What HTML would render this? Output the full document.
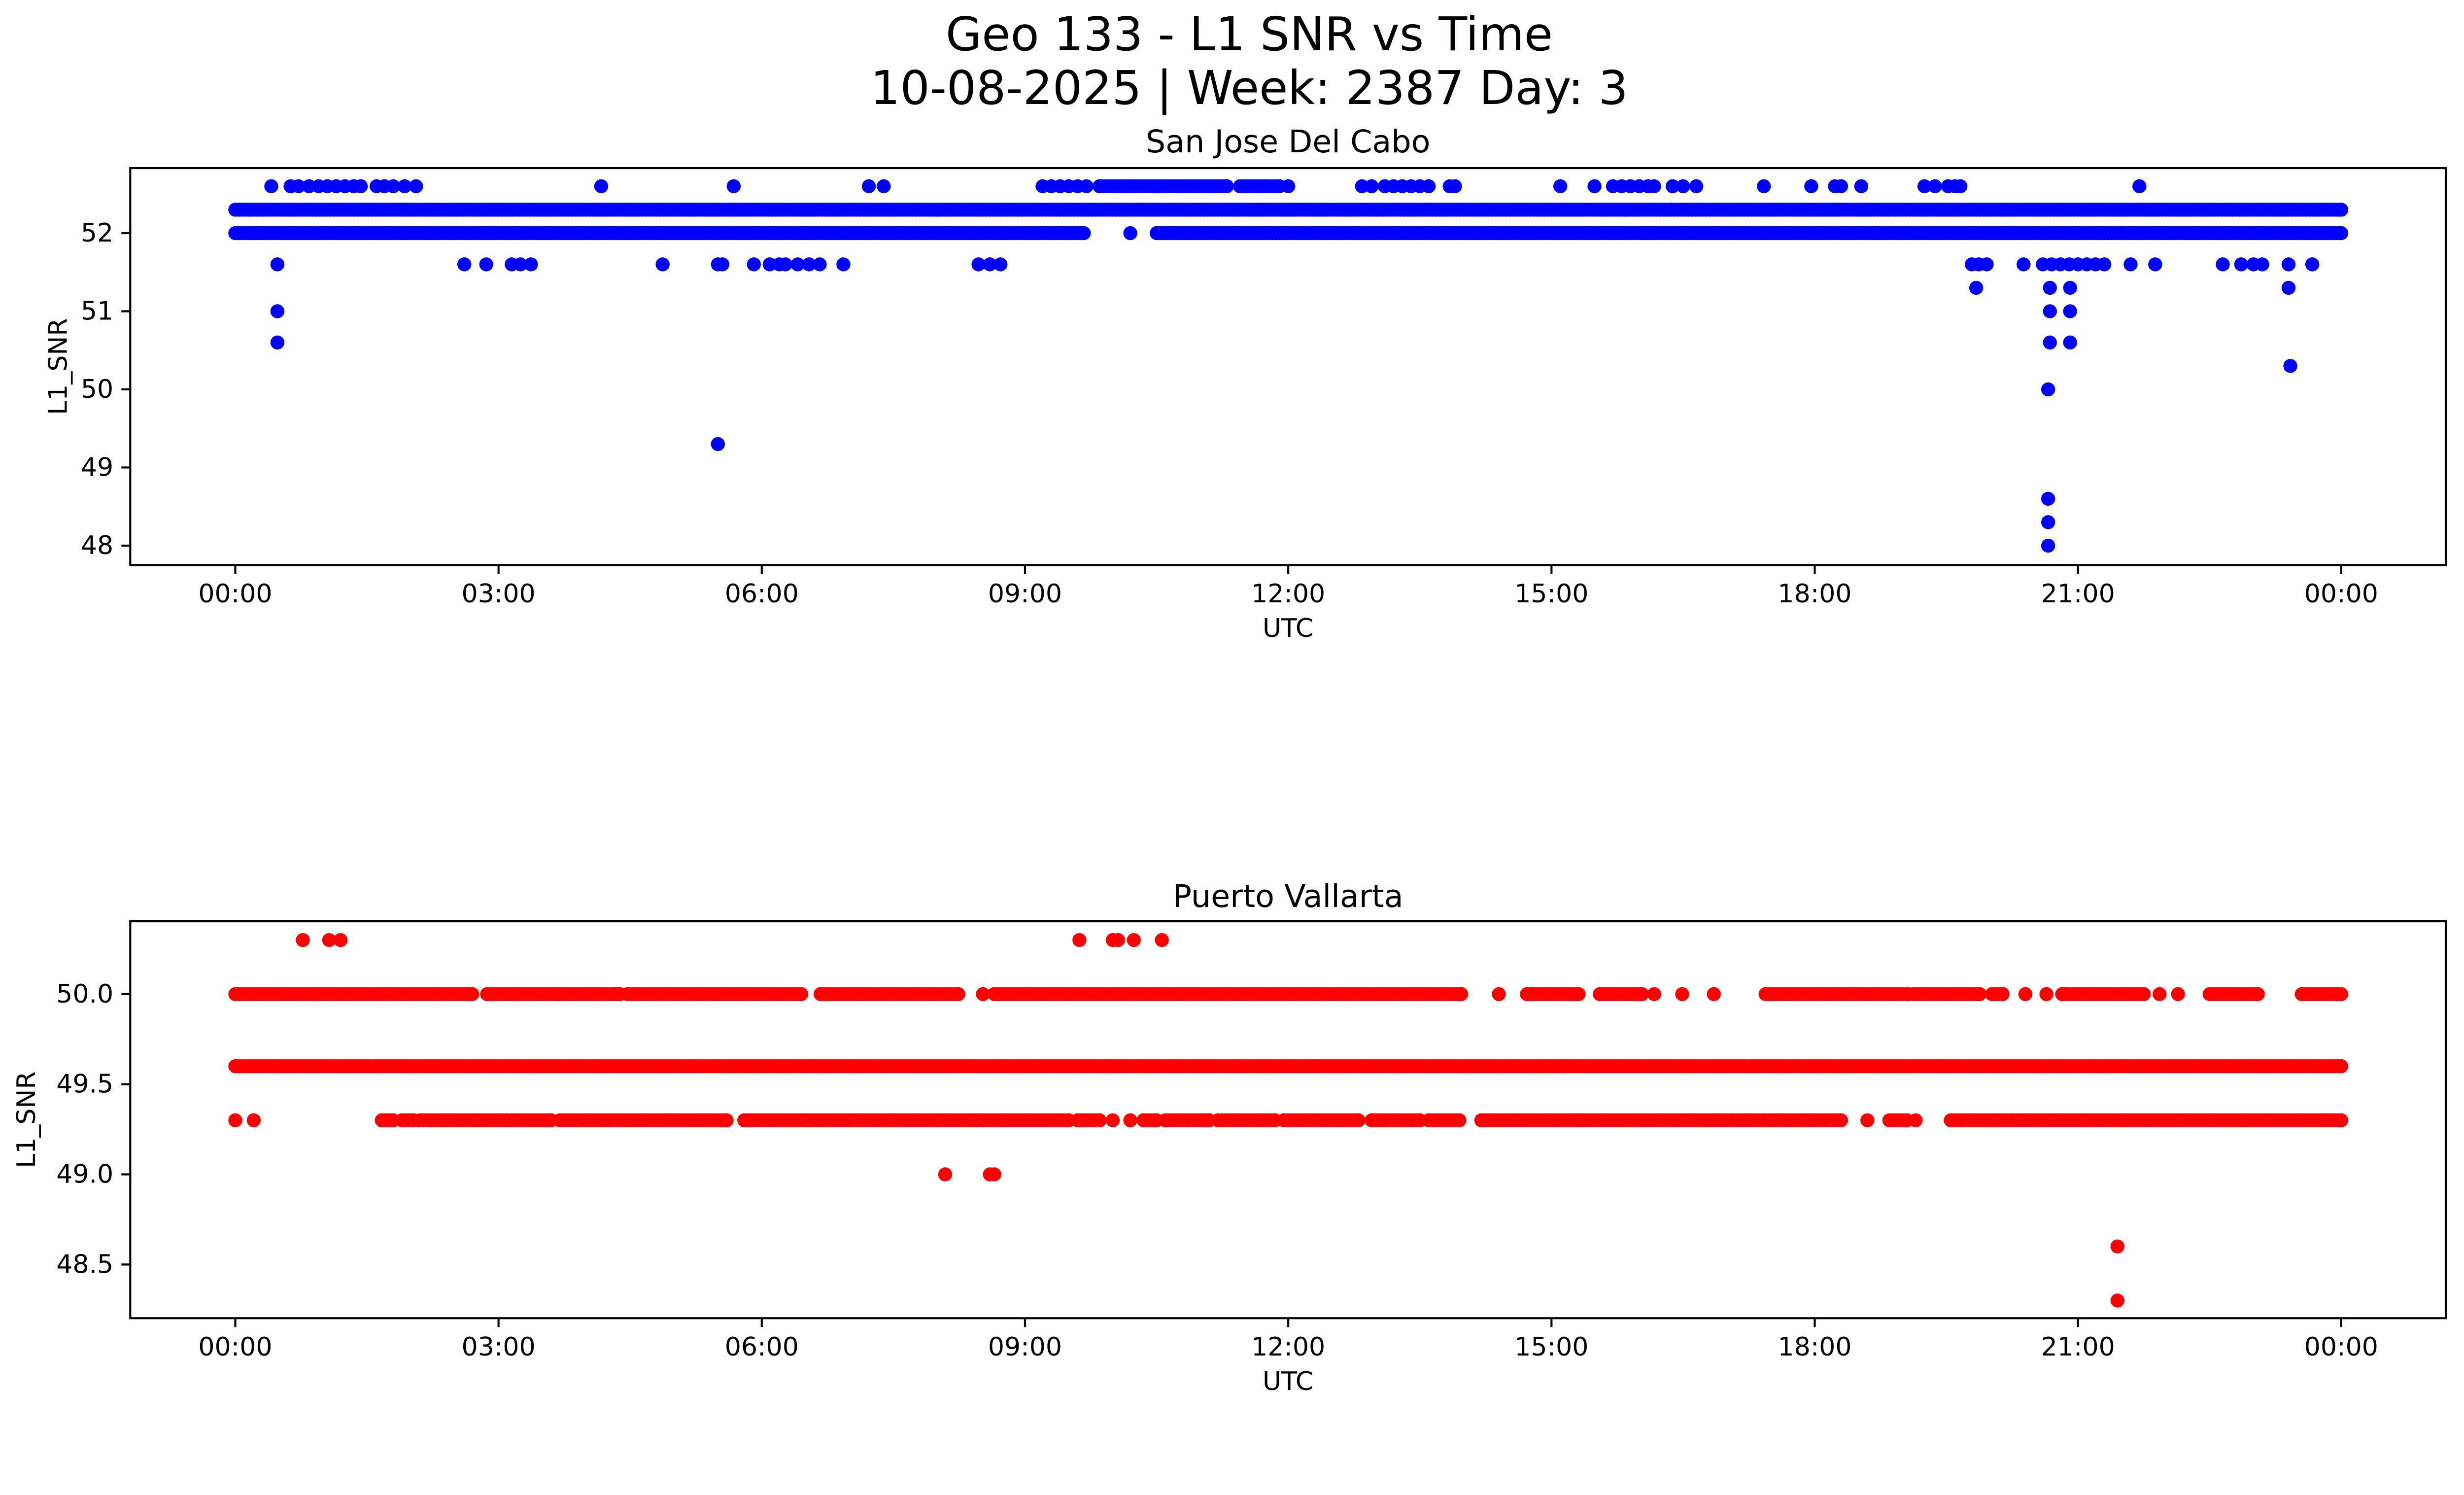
<!DOCTYPE html>
<html><head><meta charset="utf-8"><title>Geo 133 - L1 SNR vs Time</title>
<style>html,body{margin:0;padding:0;background:#fff;overflow:hidden}svg{display:block;width:100vw;height:57.4649vw}text{font-family:"DejaVu Sans","Liberation Sans",sans-serif;fill:#000}</style>
</head><body>
<svg id="fig" viewBox="0 0 5278 3033" preserveAspectRatio="none" xmlns="http://www.w3.org/2000/svg">
<rect width="5278" height="3033" fill="#fff"/>
<text x="2676" y="74" font-size="100" text-anchor="middle" dominant-baseline="central">Geo 133 - L1 SNR vs Time</text>
<text x="2676" y="189" font-size="100" text-anchor="middle" dominant-baseline="central">10-08-2025 | Week: 2387 Day: 3</text>
<g id="p1"></g>
<g id="p2"></g>
</svg>
<script>
// x tick labels
const xTickHours = [0,3,6,9,12,15,18,21,24];
const xTickLabels = ["00:00","03:00","06:00","09:00","12:00","15:00","18:00","21:00","00:00"];

// San Jose Del Cabo: runs [startHour,endHour] for dense bands, single points for sparse
const sjRuns523 = [[0,24]];
const sjRuns520 = [[0,9.67],[10.5,24]];
const sjPts520 = [10.2];
const sjPts526 = [0.41,0.63,0.72,0.84,0.95,1.05,1.15,1.25,1.35,1.43,1.61,1.7,1.8,1.93,2.06,4.17,5.68,7.22,7.39,9.2,9.3,9.4,9.5,9.6,9.7,9.85,12.0,12.84,12.95,13.1,13.2,13.3,13.4,13.5,13.6,13.84,13.9,15.1,15.49,15.7,15.8,15.9,16.0,16.1,16.17,16.38,16.5,16.65,17.42,17.96,18.23,18.3,18.53,19.25,19.37,19.52,19.6,19.66,21.7];
const sjRuns526 = [[9.85,11.3],[11.45,11.9]];
const sjPts516 = [0.48,2.61,2.86,3.15,3.25,3.37,4.87,5.5,5.55,5.91,6.09,6.2,6.27,6.41,6.54,6.66,6.93,8.47,8.6,8.72,19.79,19.87,19.96,20.38,20.6,20.7,20.8,20.9,21.0,21.1,21.2,21.3,21.6,21.88,22.65,22.86,23.0,23.1,23.4,23.67];
const sjPts513 = [19.84,20.68,20.91,23.4];
const sjPts510 = [0.48,20.68,20.91];
const sjPts506 = [0.48,20.68,20.91];
const sjPts503 = [23.42];
const sjPts500 = [20.66];
const sjPts493 = [5.5];
const sjPts486 = [20.66];
const sjPts483 = [20.66];
const sjPts480 = [20.66];

// Puerto Vallarta
const pvRuns496 = [[0,24]];
const pvRuns500 = [[0,2.7],[2.87,3.2],[3.24,3.67],[3.7,4.38],[4.47,5.28],[5.32,6.45],[6.67,8.24],[8.65,13.97],[14.72,15.31],[15.55,16.03],[17.44,19.07],[19.13,19.88],[20.02,20.14],[20.82,21.75],[22.5,23.05],[23.55,24]];
const pvPts500 = [8.52,14.4,16.17,16.49,16.85,20.4,20.64,21.93,22.14];
const pvRuns493 = [[1.67,1.8],[1.9,2.03],[2.1,3.1],[3.15,3.6],[3.7,4.45],[4.5,5.6],[5.8,9.5],[9.6,9.85],[10.35,10.5],[10.6,11.1],[11.2,11.85],[11.95,12.8],[12.95,13.5],[13.6,13.95],[14.2,18.3],[18.85,19.05],[19.55,21.8],[21.85,24]];
const pvPts493 = [0,0.21,10.0,10.2,18.6,19.15];
const pvPts503 = [0.77,1.07,1.2,9.62,10.0,10.06,10.24,10.56];
const pvPts490 = [8.09,8.6,8.65];
const pvPts486 = [21.45];
const pvPts483 = [21.45];

const NS = "http://www.w3.org/2000/svg";
function mk(tag, attrs, parent){const e=document.createElementNS(NS,tag);for(const k in attrs)e.setAttribute(k,attrs[k]);parent.appendChild(e);return e;}

function panel(g, cfg){
  const L=279,R=5239,T=cfg.top,B=cfg.bottom;
  const xs=h=>504+h*(5015-504)/24;
  const ys=v=>cfg.y0+(cfg.v0-v)*cfg.ppu;
  const t=mk("text",{x:(L+R)/2,y:cfg.titleY,"font-size":67,"text-anchor":"middle","dominant-baseline":"central"},g);
  t.textContent=cfg.title;
  
  
  const pts=mk("g",{fill:cfg.color},g);
  
  
  function dot(h,v){const c=mk("circle",{cx:xs(h).toFixed(1),cy:ys(v).toFixed(1),r:15},pts);
    
    }
  cfg.runs.forEach(([v,runs])=>runs.forEach(([a,b])=>{for(let h=a;h<=b+1e-9;h+=0.04)dot(h,v);dot(b,v);}));
  cfg.points.forEach(([v,arr])=>arr.forEach(h=>dot(h,v)));
  const fr=mk("rect",{x:L,y:T,width:R-L,height:B-T,fill:"none",stroke:"#000","stroke-width":4.4},g);
  
  
  xTickHours.forEach((h,i)=>{
    const x=xs(h);
    mk("line",{x1:x,y1:B,x2:x,y2:B+19,stroke:"#000","stroke-width":4.4},g);
    const tl=mk("text",{x:x,y:B+62,"font-size":55,"text-anchor":"middle","dominant-baseline":"central"},g);
    tl.textContent=xTickLabels[i];
    
    
  });
  cfg.yTicks.forEach((v,i)=>{
    const y=ys(v);
    mk("line",{x1:L,y1:y,x2:L-19,y2:y,stroke:"#000","stroke-width":4.4},g);
    const tl=mk("text",{x:L-36,y:y,"font-size":55,"text-anchor":"end","dominant-baseline":"central"},g);
    tl.textContent=cfg.yTickLabels[i];
    
    
  });
  const xl=mk("text",{x:(L+R)/2,y:B+136,"font-size":55,"text-anchor":"middle","dominant-baseline":"central"},g);
  xl.textContent="UTC";
  
  
  const yc=(T+B)/2, lx=cfg.ylabelX;
  const yl=mk("text",{x:lx,y:yc,"font-size":55,"text-anchor":"middle","dominant-baseline":"central",transform:`rotate(-90 ${lx} ${yc})`},g);
  yl.textContent="L1_SNR";
  
  
}

panel(document.getElementById("p1"),{
  top:360,bottom:1210,y0:499.3,v0:52,ppu:167.3,color:"#0000ff",title:"San Jose Del Cabo",titleY:303,ylabelX:125,
  yTicks:[48,49,50,51,52],yTickLabels:["48","49","50","51","52"],
  runs:[[52.3,sjRuns523],[52.0,sjRuns520],[52.6,sjRuns526]],
  points:[[52.0,sjPts520],[52.6,sjPts526],[51.6,sjPts516],[51.3,sjPts513],[51.0,sjPts510],[50.6,sjPts506],[50.3,sjPts503],[50.0,sjPts500],[49.3,sjPts493],[48.6,sjPts486],[48.3,sjPts483],[48.0,sjPts480]]
});
panel(document.getElementById("p2"),{
  top:1973,bottom:2823,y0:2129,v0:50,ppu:386,color:"#ff0000",title:"Puerto Vallarta",titleY:1919,ylabelX:57,
  yTicks:[48.5,49.0,49.5,50.0],yTickLabels:["48.5","49.0","49.5","50.0"],
  runs:[[49.6,pvRuns496],[50.0,pvRuns500],[49.3,pvRuns493]],
  points:[[50.0,pvPts500],[49.3,pvPts493],[50.3,pvPts503],[49.0,pvPts490],[48.6,pvPts486],[48.3,pvPts483]]
});
</script>
</body></html>
